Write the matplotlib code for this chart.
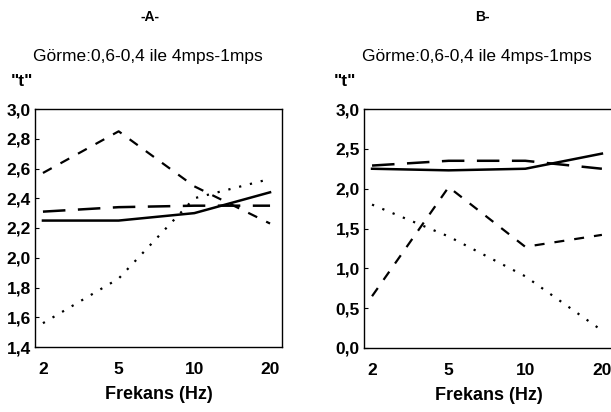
import matplotlib
matplotlib.use("Agg")
import matplotlib.pyplot as plt

freq_labels = ["2", "5", "10", "20"]

a_solid = [2.25, 2.25, 2.30, 2.44]
a_longdash = [2.31, 2.34, 2.35, 2.35]
a_dash = [2.57, 2.85, 2.48, 2.23]
a_dot = [1.56, 1.86, 2.40, 2.53]

b_solid = [2.25, 2.23, 2.25, 2.44]
b_longdash = [2.29, 2.35, 2.35, 2.25]
b_dash = [0.65, 2.02, 1.27, 1.42]
b_dot = [1.80, 1.40, 0.90, 0.22]

a_yticks = [1.4, 1.6, 1.8, 2.0, 2.2, 2.4, 2.6, 2.8, 3.0]
b_yticks = [0.0, 0.5, 1.0, 1.5, 2.0, 2.5, 3.0]

FONT = ["Liberation Sans", "DejaVu Sans"]
plt.rcParams['font.family'] = FONT

fig = plt.figure(figsize=(6.11, 4.12), dpi=100)
axA = fig.add_axes([35/611, 1-347/412, (282-35)/611, (347-109)/412])
axB = fig.add_axes([364/611, 1-348/412, (614-364)/611, (348-109)/412])

x = list(range(len(freq_labels)))

def draw(ax, solid, longdash, dash, dot, yticks, ylim):
    ax.plot(x, solid, color="black", lw=1.8, ls="-")
    ax.plot(x, longdash, color="black", lw=1.8, ls=(0, (9, 5)))
    ax.plot(x, dash, color="black", lw=1.6, ls=(0, (4.5, 4.5)))
    ax.plot(x, dot, color="black", lw=1.6, ls=(0, (1, 4)))
    ax.set_xlim(-0.105, 3.158)
    ax.set_ylim(*ylim)
    ax.set_xticks(x)
    ax.set_xticklabels(freq_labels, fontsize=12.5, fontweight="bold")
    ax.set_yticks(yticks)
    ax.set_yticklabels([f"{v:.1f}".replace(".", ",") for v in yticks], fontsize=12.5, fontweight="bold")
    ax.tick_params(axis="both", direction="in", length=3, width=0.8, pad=3)
    ax.tick_params(axis="x", length=0, pad=11)
    for s in ax.spines.values():
        s.set_linewidth(1.0)
    ax.set_xlabel("Frekans (Hz)", fontsize=13, fontweight="bold", labelpad=6)

draw(axA, a_solid, a_longdash, a_dash, a_dot, a_yticks, (1.4, 3.0))
draw(axB, b_solid, b_longdash, b_dash, b_dot, b_yticks, (0.0, 3.0))

fig.text(150/611, 1-17/412, "-A-", ha="center", va="center", fontsize=10, fontweight="bold")
fig.text(482/611, 1-17/412, "B-", ha="center", va="center", fontsize=10, fontweight="bold")
sub = "Görme:0,6-0,4 ile 4mps-1mps"
fig.text(148/611, 1-57/412, sub, ha="center", va="center", fontsize=12.5)
fig.text(477/611, 1-57/412, sub, ha="center", va="center", fontsize=12.5)
fig.text(22/611, 1-81/412, '"t"', ha="center", va="center", fontsize=12.5, fontweight="bold")
fig.text(345/611, 1-82/412, '"t"', ha="center", va="center", fontsize=12.5, fontweight="bold")

fig.savefig("out.png", dpi=100)
